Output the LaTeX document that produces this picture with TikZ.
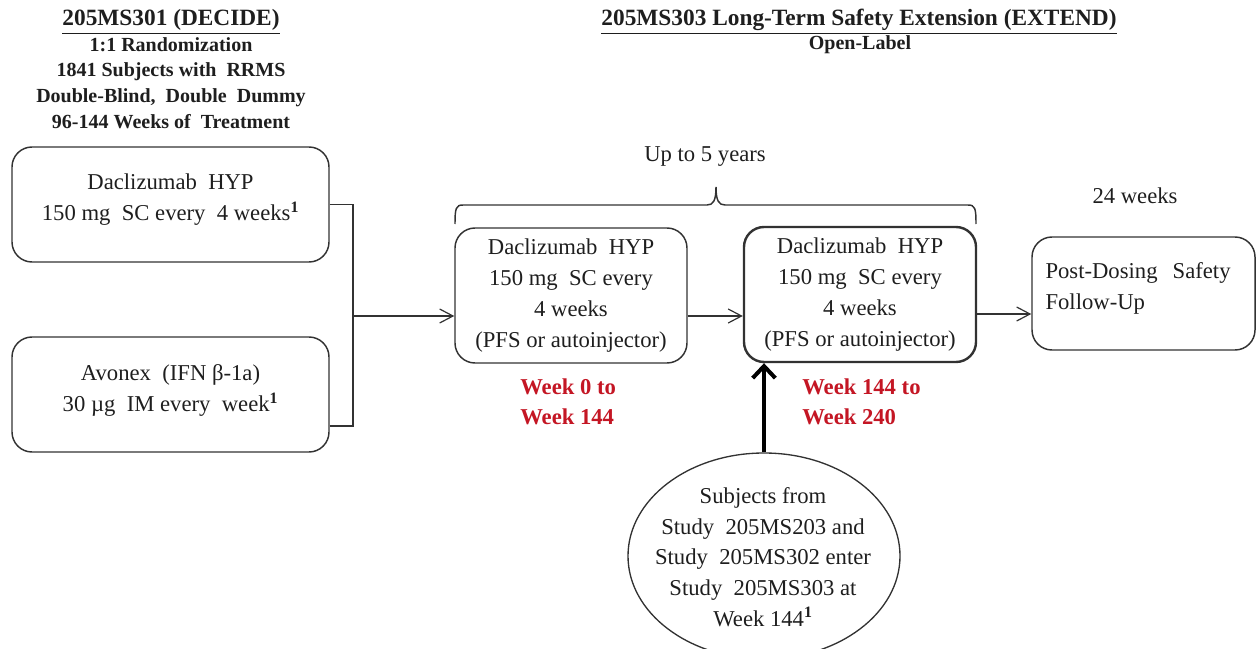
\documentclass[tikz,border=0pt]{standalone}
\usepackage{fontspec}
\setmainfont{Liberation Serif}
\usetikzlibrary{arrows.meta,shapes.geometric}
\definecolor{wkred}{RGB}{196,22,36}
\definecolor{edgegray}{RGB}{50,50,50}
\definecolor{txt}{RGB}{30,30,30}
\newcommand\bxfont{\fontsize{17}{23.25}\selectfont}
\newcommand\redfont{\bfseries\fontsize{17}{22.5}\selectfont}
\begin{document}
\begin{tikzpicture}[x=0.75pt,y=-0.75pt,
  every node/.style={text=txt},
  box/.style={draw=edgegray, line width=1.1pt, rounded corners=15pt, align=center, font=\bxfont},
  conn/.style={draw=edgegray, line width=0.9pt},
  arr/.style={conn, -{Straight Barb[length=10pt,width=10.5pt]}},
  redlbl/.style={text=wkred, font=\redfont, align=left, anchor=west, inner sep=0pt},
  plain/.style={font=\bxfont, inner sep=0pt}]
\useasboundingbox (0,0) rectangle (1256,649);

% titles
\node[font=\bfseries\fontsize{17.5}{20}\selectfont, anchor=base, inner sep=0pt] (t1) at (171,26) {\underline{205MS301 (DECIDE)}};
\node[font=\bfseries\fontsize{15}{19.3}\selectfont, align=center, inner sep=0pt] (s1) at (171,83) {1:1 Randomization\\1841 Subjects with\ \ RRMS\\Double-Blind,\ \ Double\ \ Dummy\\96-144 Weeks of\ \ Treatment};
\node[font=\bfseries\fontsize{17.5}{20}\selectfont, anchor=base, inner sep=0pt] (t2) at (859,26) {\underline{205MS303 Long-Term Safety Extension (EXTEND)}};
\node[font=\bfseries\fontsize{15}{18}\selectfont, inner sep=0pt] (s2) at (860,45) {Open-Label};

% boxes
\node[box, minimum width=237.75pt, minimum height=86.25pt] (A) at (170.5,204.5)
  {Daclizumab\ \ HYP\\150 mg\ \ SC every\ \ 4 weeks\textsuperscript{\textbf{1}}\rule[-11pt]{0pt}{11pt}};
\node[box, minimum width=237.75pt, minimum height=86.25pt] (B) at (170.5,394.5)
  {Avonex\ \ (IFN β-1a)\\30 µg\ \ IM every\ \ week\textsuperscript{\textbf{1}}\rule[-9.5pt]{0pt}{9.5pt}};
\node[box, minimum width=174pt, minimum height=101.25pt] (C) at (571,295.5)
  {Daclizumab\ \ HYP\\150 mg\ \ SC every\\4 weeks\\(PFS or autoinjector)};
\node[box, line width=1.8pt, minimum width=174pt, minimum height=101.25pt] (D) at (860,294.5)
  {Daclizumab\ \ HYP\\150 mg\ \ SC every\\4 weeks\\(PFS or autoinjector)};
\node[box, minimum width=167.25pt, minimum height=84.75pt, text width=147pt, align=left] (E) at (1143.5,293.5)
  {Post-Dosing\ \ Safety\\Follow-Up\rule[-10.5pt]{0pt}{10.5pt}};

% ellipse
\node[draw=edgegray, line width=1pt, ellipse, minimum width=204pt, minimum height=154.5pt, inner sep=0pt] (F) at (764,556) {};
\node[font=\fontsize{17}{23}\selectfont, align=center, inner sep=0pt] (Ft) at (763,557)
  {Subjects from\\Study\ \ 205MS203 and\\Study\ \ 205MS302 enter\\Study\ \ 205MS303 at\\Week 144\textsuperscript{\textbf{1}}};

% labels
\node[plain] (up) at (705,157) {Up to 5 years};
\node[plain] (wk24) at (1135,196) {24 weeks};
\node[redlbl] (r1) at (520,402) {Week 0 to\\Week 144};
\node[redlbl] (r2) at (802,402) {Week 144 to\\Week 240};

% brace
\draw[edgegray, line width=1.1pt] (455,224) .. controls (455,208) and (456,205) .. (463,205)
  -- (707,205) .. controls (713,205) and (716,201) .. (716,187)
  .. controls (716,201) and (719,205) .. (725,205)
  -- (968,205) .. controls (975,205) and (976,208) .. (976,224);

% connectors
\coordinate (J) at (353,316);
\coordinate (yB) at (0,426);
\coordinate (K) at (0,314);
\draw[conn] (A.east) -| (J);
\draw[conn] (B.east |- yB) -| (J);
\draw[arr] (J) -- (C.west |- J);
\draw[arr] (C.east |- J) -- (D.west |- J);
\draw[arr] (D.east |- K) -- (E.west |- K);
\draw[draw=black, line width=3pt, -{Straight Barb[length=9pt,width=17pt]}] (F.north) -- (F.north |- D.south);
\end{tikzpicture}
\end{document}
